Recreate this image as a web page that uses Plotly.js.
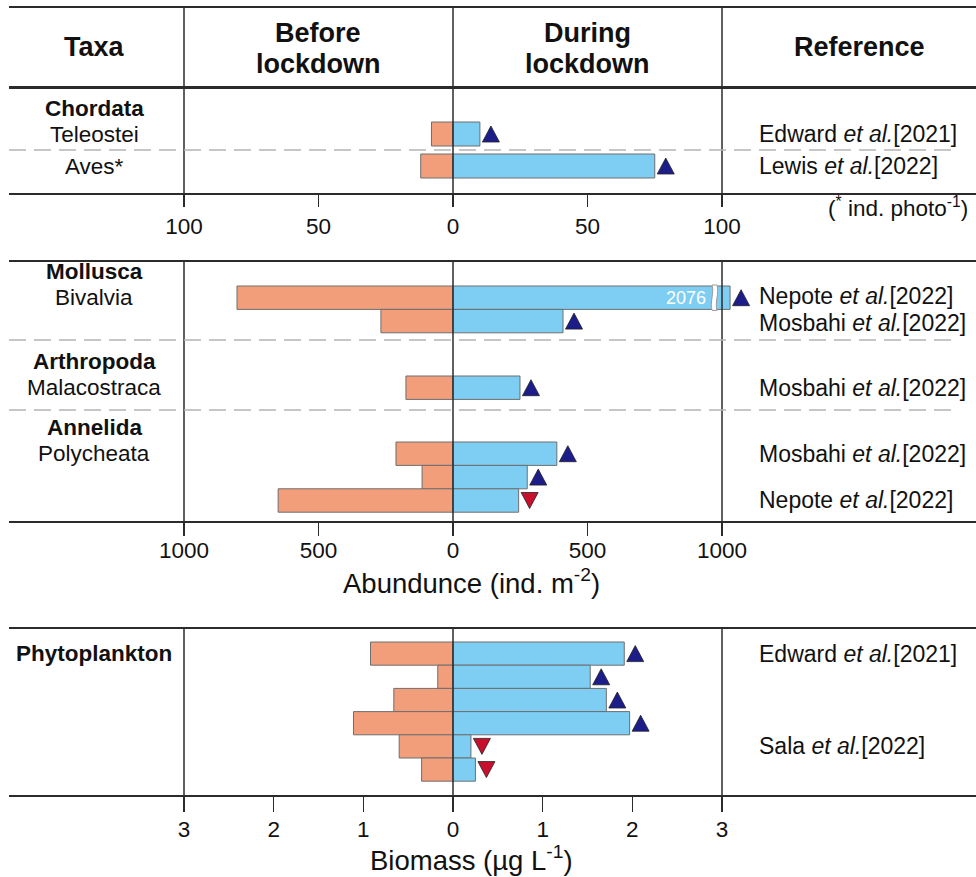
<!DOCTYPE html>
<html><head><meta charset="utf-8">
<script src="https://cdn.plot.ly/plotly-3.0.1.min.js"></script>
<style>html,body{margin:0;padding:0;background:#fff}#chart{width:976px;height:877px}</style>
</head><body><div id="chart"></div>
<script>
// ================= DATA =================
// Panel 1 – Chordata, abundance (ind. photo^-1)
const chordGroups = ['Chordata'];
const chordGroupSizes = [2];
const chordTaxa = ['Teleostei', 'Aves*'];
const chordBefore = [8, 12];
const chordDuring = [10, 75];
const chordTrend = ['up', 'up'];
const chordRefAuthor = ['Edward', 'Lewis'];
const chordRefYear = ['2021', '2022'];
const chordTicks = [-100, -50, 0, 50, 100];

// Panel 2 – benthic invertebrates, abundance (ind. m^-2)
const benthGroups = ['Mollusca', 'Arthropoda', 'Annelida'];
const benthGroupSizes = [2, 1, 3];
const benthTaxa = ['Bivalvia', '', 'Malacostraca', 'Polycheata', '', ''];
const benthBefore = [803, 268, 175, 212, 115, 650];
const benthDuring = [2076, 409, 249, 386, 276, 244];
const benthTrend = ['up', 'up', 'up', 'up', 'up', 'down'];
const benthRefAuthor = ['Nepote', 'Mosbahi', 'Mosbahi', 'Mosbahi', '', 'Nepote'];
const benthRefYear = ['2022', '2022', '2022', '2022', '', '2022'];
const benthTicks = [-1000, -500, 0, 500, 1000];

// Panel 3 – phytoplankton biomass (µg L^-1)
const phytoGroups = ['Phytoplankton'];
const phytoGroupSizes = [6];
const phytoTaxa = ['', '', '', '', '', ''];
const phytoBefore = [0.92, 0.17, 0.66, 1.11, 0.60, 0.35];
const phytoDuring = [1.91, 1.53, 1.71, 1.97, 0.20, 0.25];
const phytoTrend = ['up', 'up', 'up', 'up', 'down', 'down'];
const phytoRefAuthor = ['Edward', '', '', '', 'Sala', ''];
const phytoRefYear = ['2021', '', '', '', '2022', ''];
const phytoTicks = [-3, -2, -1, 0, 1, 2, 3];

// ================= LAYOUT / STYLE =================
const W = 976, H = 877;
const X_LEFT = 9, X_RIGHT = 976, X_NEG = 184, X_ZERO = 453, X_POS = 722;
const X_LABEL = 94, X_REF = 757;
const FONT = '"Liberation Sans", Arial, sans-serif';
const INK = '#2b2b2b';
const C_BEFORE = '#F29E7A', C_DURING = '#7ECEF4', C_OUTLINE = '#6e6e6e';
const C_UP = '#1D1D8A', C_DOWN = '#C8102E';
const SZ_HEAD = 27, SZ_LABEL = 22.5, SZ_REF = 23, SZ_TICK = 22.5, SZ_TITLE = 27.5;

const px = x => x / W;
const py = y => 1 - y / H;

const panels = [
  {top: 88, bottom: 193, max: 100, ticks: chordTicks, groups: chordGroups, sizes: chordGroupSizes,
   taxa: chordTaxa, before: chordBefore, during: chordDuring, trend: chordTrend,
   refA: chordRefAuthor, refY: chordRefYear, ticklen: 12, labelShift: 0,
   starts: [0], pads: [34], pitch: 32, barH: 24, seps: [62], cap: null},
  {top: 262, bottom: 521, max: 1000, ticks: benthTicks, groups: benthGroups, sizes: benthGroupSizes,
   taxa: benthTaxa, before: benthBefore, during: benthDuring, trend: benthTrend,
   refA: benthRefAuthor, refY: benthRefYear, ticklen: 13, labelShift: -5,
   starts: [0, 78, 148], pads: [24, 36, 32], pitch: 23.4, barH: 23.4, seps: [78, 148],
   cap: {display: 1030, gapPx: [712, 717]}},
  {top: 629, bottom: 795, max: 3, ticks: phytoTicks, groups: phytoGroups, sizes: phytoGroupSizes,
   taxa: phytoTaxa, before: phytoBefore, during: phytoDuring, trend: phytoTrend,
   refA: phytoRefAuthor, refY: phytoRefYear, ticklen: 15, labelShift: -2,
   starts: [0], pads: [13], pitch: 23.2, barH: 23.2, seps: [], cap: null}
];

const traces = [], shapes = [], annotations = [];
const layout = {
  width: W, height: H, margin: {l: 0, r: 0, t: 0, b: 0},
  paper_bgcolor: '#fff', plot_bgcolor: 'rgba(0,0,0,0)',
  showlegend: false, barmode: 'overlay', font: {family: FONT, color: '#111'},
};

function ann(text, x, xref, y, yref, size, opts) {
  annotations.push(Object.assign({text, x, xref, y, yref, showarrow: false,
    xanchor: 'center', yanchor: 'middle', font: {family: FONT, size, color: '#111'}}, opts || {}));
}

panels.forEach((p, i) => {
  const n = i + 1;
  const xa = n === 1 ? 'x' : 'x' + n, ya = n === 1 ? 'y' : 'y' + n;
  const ppu = (X_POS - X_ZERO) / p.max;
  const h = p.bottom - p.top;
  layout['xaxis' + (n === 1 ? '' : n)] = {
    domain: [px(X_LEFT), px(X_RIGHT)], anchor: ya,
    range: [-p.max - (X_NEG - X_LEFT) / ppu, p.max + (X_RIGHT - X_POS) / ppu],
    showgrid: false, zeroline: false, showline: true, mirror: true, linecolor: INK, linewidth: 2,
    ticks: 'outside', ticklen: p.ticklen, tickwidth: 1.5, tickcolor: INK,
    tickvals: p.ticks, ticktext: p.ticks.map(v => String(Math.abs(v))),
    tickfont: {family: FONT, size: SZ_TICK, color: '#111'}, fixedrange: true
  };
  layout['yaxis' + (n === 1 ? '' : n)] = {
    domain: [py(p.bottom), py(p.top)], anchor: xa, range: [h, 0],
    visible: false, showgrid: false, zeroline: false, fixedrange: true
  };

  // row centres (px offset inside the panel) derived from group structure
  const rowY = [];
  p.sizes.forEach((sz, g) => {
    for (let k = 0; k < sz; k++) rowY.push(p.starts[g] + p.pads[g] + k * p.pitch + p.barH / 2);
  });

  const disp = p.during.map(v => p.cap && v > p.cap.display ? p.cap.display : v);
  traces.push({type: 'bar', orientation: 'h', x: p.before.map(v => -v), y: rowY, width: p.barH,
    xaxis: xa, yaxis: ya, marker: {color: C_BEFORE, line: {color: C_OUTLINE, width: 1}}, hoverinfo: 'skip'});
  traces.push({type: 'bar', orientation: 'h', x: disp, y: rowY, width: p.barH,
    xaxis: xa, yaxis: ya, marker: {color: C_DURING, line: {color: C_OUTLINE, width: 1}}, hoverinfo: 'skip'});

  // trend triangles (drawn as polygons next to the 'during' bar)
  const off = 11 / ppu, hw = 8.5 / ppu, hh = 8;
  ['up', 'down'].forEach(dir => {
    const tx = [], ty = [];
    disp.forEach((v, r) => {
      if (p.trend[r] !== dir) return;
      const xc = v + off, yc = rowY[r];
      if (dir === 'up') { tx.push(xc - hw, xc + hw, xc, xc - hw, null); ty.push(yc + hh, yc + hh, yc - hh, yc + hh, null); }
      else { tx.push(xc - hw, xc + hw, xc, xc - hw, null); ty.push(yc - hh, yc - hh, yc + hh, yc - hh, null); }
    });
    if (tx.length) traces.push({type: 'scatter', mode: 'lines', x: tx, y: ty, fill: 'toself',
      fillcolor: dir === 'up' ? C_UP : C_DOWN, line: {color: '#222', width: 0.8},
      xaxis: xa, yaxis: ya, cliponaxis: false, hoverinfo: 'skip', connectgaps: false});
  });

  // axis break for off-scale bar
  if (p.cap) {
    p.during.forEach((v, r) => {
      if (v <= p.cap.display) return;
      const x0 = (p.cap.gapPx[0] - X_ZERO) / ppu, x1 = (p.cap.gapPx[1] - X_ZERO) / ppu;
      const yT = rowY[r] - p.barH / 2 - 1, yB = rowY[r] + p.barH / 2 + 1, d = 2.5 / ppu;
      shapes.push({type: 'path', xref: xa, yref: ya, layer: 'above',
        path: `M${x0},${yT} C${x0 + d},${yT + 8} ${x0 - d},${yB - 8} ${x0},${yB} L${x1},${yB} C${x1 - d},${yB - 8} ${x1 + d},${yT + 8} ${x1},${yT} Z`,
        fillcolor: '#fff', line: {color: '#9a9a9a', width: 1}});
      ann(String(v), x0, xa, rowY[r], ya, 18, {xanchor: 'right', xshift: -4, font: {family: FONT, size: 18, color: '#fff'}});
    });
  }

  // vertical lines at -max, 0, +max
  [-p.max, 0, p.max].forEach(v => shapes.push({type: 'line', xref: xa, yref: ya + ' domain',
    x0: v, x1: v, y0: 0, y1: 1, layer: 'above', line: {color: INK, width: 1.5}}));

  // dashed separators
  p.seps.forEach(s => shapes.push({type: 'line', xref: 'paper', yref: ya, x0: px(X_LEFT), x1: px(955),
    y0: s, y1: s, layer: 'above', line: {color: '#b4b4b4', width: 1.5, dash: '17px,8px'}}));

  // taxa labels
  let r0 = 0;
  p.groups.forEach((g, gi) => {
    if (p.taxa[r0]) ann('<b>' + g + '</b>', px(X_LABEL), 'paper', rowY[r0] - 26, ya, SZ_LABEL);
    else ann('<b>' + g + '</b>', px(X_LABEL), 'paper', rowY[r0], ya, SZ_LABEL);
    r0 += p.sizes[gi];
  });
  p.taxa.forEach((t, r) => { if (t) ann(t, px(X_LABEL), 'paper', rowY[r], ya, SZ_LABEL); });

  // references (spread apart slightly when two sit on adjacent rows)
  p.refA.forEach((a, r) => {
    if (!a) return;
    let ys = 0;
    if (p.refA[r + 1] && Math.abs(rowY[r + 1] - rowY[r]) < 26) ys += 1.5;
    if (r > 0 && p.refA[r - 1] && Math.abs(rowY[r] - rowY[r - 1]) < 26) ys -= 1.5;
    ann(a + ' <i>et al.</i>[' + p.refY[r] + ']', px(X_REF), 'paper', rowY[r], ya, SZ_REF, {xanchor: 'left', yshift: ys});
  });
});

// header table
[7, 88].forEach(y => shapes.push({type: 'line', xref: 'paper', yref: 'paper', x0: px(X_LEFT), x1: px(X_RIGHT),
  y0: py(y), y1: py(y), line: {color: INK, width: 2}}));
[X_NEG, X_ZERO, X_POS].forEach(x => shapes.push({type: 'line', xref: 'paper', yref: 'paper',
  x0: px(x), x1: px(x), y0: py(7), y1: py(88), line: {color: INK, width: 1.5}}));
const hdr = (t, x, y) => ann('<b>' + t + '</b>', px(x), 'paper', py(y), 'paper', SZ_HEAD);
hdr('Taxa', 94, 47);
hdr('Before', 318, 33); hdr('lockdown', 318, 64);
hdr('During', 587, 33); hdr('lockdown', 587, 64);
hdr('Reference', 859, 47);

// units / axis titles
ann('(<sup>*</sup> ind. photo<sup>-1</sup>)', px(970), 'paper', py(207), 'paper', 22.5, {xanchor: 'right'});
ann('Abundunce (ind. m<sup>-2</sup>)', px(471), 'paper', py(581), 'paper', SZ_TITLE);
ann('Biomass (µg L<sup>-1</sup>)', px(471), 'paper', py(858), 'paper', SZ_TITLE);

layout.shapes = shapes;
layout.annotations = annotations;
Plotly.newPlot('chart', traces, layout, {staticPlot: true, displayModeBar: false}).then(() => {
  // nudge tick labels to the reference's baseline positions
  panels.forEach((p, i) => {
    const k = i === 0 ? 'x' : 'x' + (i + 1);
    if (!p.labelShift) return;
    document.querySelectorAll('g.' + k + 'tick text').forEach(t => {
      t.setAttribute('transform', (t.getAttribute('transform') || '') + ' translate(0,' + p.labelShift + ')');
    });
  });
});
</script></body></html>
